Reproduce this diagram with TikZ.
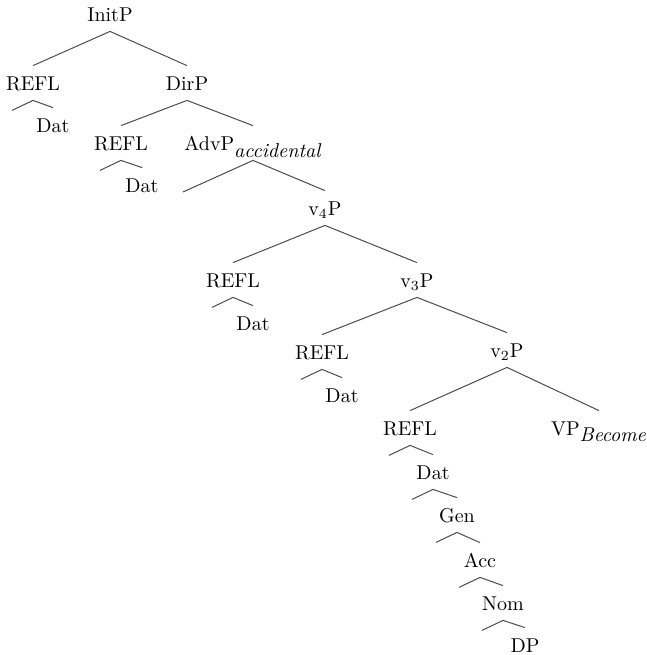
\documentclass[tikz,border=0pt]{standalone}
\begin{document}
\begin{tikzpicture}[x=0.5pt,y=-0.5pt,
    lbl/.style={inner sep=5pt, text height=7pt, text depth=0pt},
    branch/.style={draw=black!70, line width=0.5pt}]
            \useasboundingbox (0,0) rectangle (647,655);
          
            % Place the labels of the tree
            \node[lbl] (initp) at (110,14) {InitP};
            \node[lbl] (refl1) at (33,83) {REFL};
            \node[lbl] (dirp) at (187,83) {DirP};
            \node[lbl] (dat1) at (53,125) {Dat};
            \node[lbl] (refl2) at (121,143) {REFL};
            \node[lbl] (advp) at (253,143) {AdvP$_{\textit{accidental}}$};
            \node[lbl] (dat2) at (142,185) {Dat};
            \coordinate (advl) at (183,192);
            \node[lbl] (v4p) at (325,208) {v$_4$P};
            \node[lbl] (refl3) at (233,280) {REFL};
            \node[lbl] (v3p) at (417,280) {v$_3$P};
            \node[lbl] (dat3) at (253,323) {Dat};
            \node[lbl] (refl4) at (322,352) {REFL};
            \node[lbl] (v2p) at (507,350) {v$_2$P};
            \node[lbl] (dat4) at (342,395) {Dat};
            \node[lbl] (refl5) at (410,428) {REFL};
            \node[lbl] (vpb) at (599,428) {VP$_{\textit{Become}}$};
            \node[lbl] (dat5) at (433,472) {Dat};
            \node[lbl] (gen) at (457,515) {Gen};
            \node[lbl] (acc) at (480,560) {Acc};
            \node[lbl] (nom) at (503,603) {Nom};
            \node[lbl] (dp) at (525,645) {DP};
          
            % Draw branches
            \foreach \a/\b in {initp/refl1, initp/dirp, dirp/refl2, dirp/advp,
                               advp/v4p, v4p/refl3, v4p/v3p, v3p/refl4, v3p/v2p,
                               v2p/refl5, v2p/vpb}
              \draw[branch] (\a.south) -- (\b.north);
            \draw[branch] (advp.south) -- (advl);
          
            % Draw the small roofs with an empty left leg
            \foreach \a/\b in {refl1/dat1, refl2/dat2, refl3/dat3, refl4/dat4,
                               refl5/dat5, dat5/gen, gen/acc, acc/nom, nom/dp}
              \draw[branch] (\b.north) -- (\a.south) -- ++(-21,10);
          \end{tikzpicture}
\end{document}
